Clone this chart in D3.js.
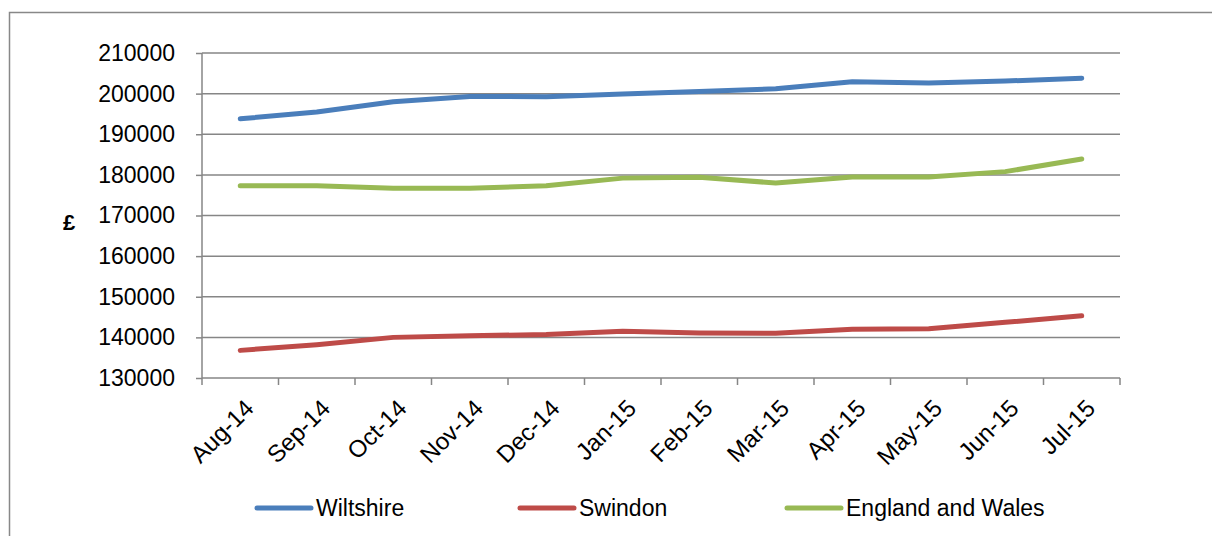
<!DOCTYPE html>
<html>
<head>
<meta charset="utf-8">
<script src="https://cdn.jsdelivr.net/npm/d3@7"></script>
<style>
  body { margin: 0; background: #fff; }
  svg { display: block; font-family: "Liberation Sans", Arial, sans-serif; }
  .ejes path { display: none; }
  .ejes line { stroke: #868686; stroke-width: 1.5; }
  .ejes text { fill: #000; font-size: 23px; }
</style>
</head>
<body>
<div id="graf"></div>
<script>
// Datos
var meses = ['Aug-14', 'Sep-14', 'Oct-14', 'Nov-14', 'Dec-14', 'Jan-15', 'Feb-15', 'Mar-15', 'Apr-15', 'May-15', 'Jun-15', 'Jul-15']
var wiltshire = [193800, 195500, 198000, 199300, 199250, 199900, 200500, 201200, 202900, 202600, 203100, 203800]
var swindon   = [136800, 138200, 140000, 140400, 140700, 141500, 141100, 141000, 142000, 142100, 143700, 145300]
var englandWales = [177300, 177300, 176700, 176700, 177300, 179200, 179400, 178000, 179500, 179500, 180800, 183900]
var yTicks = [130000, 140000, 150000, 160000, 170000, 180000, 190000, 200000, 210000]
var nombres = ['Wiltshire', 'Swindon', 'England and Wales']
var colores = ['#4A7EBB', '#BE4B48', '#98B954']

var ancho_total = 1212
var alto_total = 536
var margins = { top: 53, left: 202, right: 92, bottom: 158 }
var ancho = ancho_total - margins.left - margins.right
var alto = alto_total - margins.top - margins.bottom

svg = d3.select('#graf').append('svg')
        .attr('width', ancho_total)
        .attr('height', alto_total)

// Borde del area del grafico
svg.append('path')
   .attr('d', 'M9.5,536 V12.5 H1212')
   .attr('fill', 'none')
   .attr('stroke', '#888')
   .attr('stroke-width', 1.5)

g = svg.append('g')
       .attr('transform', `translate(${margins.left}, ${margins.top})`)

// Escaladores
x = d3.scaleBand().domain(meses).range([0, ancho])
y = d3.scaleLinear().domain([130000, 210000]).range([alto, 0])
xc = m => x(m) + x.bandwidth() / 2

// Rejilla
g.append('g').selectAll('line')
  .data(yTicks.slice(1))
  .join('line')
  .attr('x1', 0).attr('x2', ancho)
  .attr('y1', d => y(d)).attr('y2', d => y(d))
  .attr('stroke', '#868686')
  .attr('stroke-width', 1.5)

// Eje Y
g.append('g')
  .attr('class', 'ejes')
  .call(d3.axisLeft(y).tickValues(yTicks).tickSize(6).tickPadding(21).tickFormat(d3.format('d')))
g.append('line')
  .attr('x1', 0).attr('x2', 0).attr('y1', 0).attr('y2', alto)
  .attr('stroke', '#868686').attr('stroke-width', 1.5)

// Eje X: marcas en los limites de cada categoria
var bordes = d3.range(meses.length + 1).map(i => i * x.step())
g.append('line')
  .attr('x1', 0).attr('x2', ancho).attr('y1', alto).attr('y2', alto)
  .attr('stroke', '#868686').attr('stroke-width', 1.5)
g.append('g').selectAll('line')
  .data(bordes)
  .join('line')
  .attr('x1', d => d).attr('x2', d => d)
  .attr('y1', alto).attr('y2', alto + 7)
  .attr('stroke', '#868686').attr('stroke-width', 1.5)

g.append('g').selectAll('text')
  .data(meses)
  .join('text')
  .attr('transform', d => `translate(${xc(d) + 3}, ${alto + 20}) rotate(-45)`)
  .attr('text-anchor', 'end')
  .attr('dy', '0.7em')
  .attr('font-size', '24px')
  .text(d => d)

// Titulo eje Y
svg.append('text')
   .attr('x', 69).attr('y', 222)
   .attr('text-anchor', 'middle')
   .attr('dy', '0.35em')
   .attr('font-size', '22px')
   .attr('font-weight', 'bold')
   .text('£')

// Lineas
var series = [wiltshire, swindon, englandWales]
lineaGen = d3.line()
  .x((d, i) => xc(meses[i]))
  .y(d => y(d))

g.append('g').selectAll('path')
  .data(series)
  .join('path')
  .attr('fill', 'none')
  .attr('stroke', (d, i) => colores[i])
  .attr('stroke-width', 5)
  .attr('stroke-linecap', 'round')
  .attr('stroke-linejoin', 'round')
  .attr('d', d => lineaGen(d))

// Leyenda
var leyX = [257, 520, 787]
var ley = svg.append('g').selectAll('g')
  .data(nombres)
  .join('g')
  .attr('transform', (d, i) => `translate(${leyX[i]}, 508)`)
ley.append('line')
  .attr('x1', 0).attr('x2', 54)
  .attr('stroke', (d, i) => colores[i])
  .attr('stroke-width', 5)
  .attr('stroke-linecap', 'round')
ley.append('text')
  .attr('x', 59)
  .attr('dy', '0.35em')
  .attr('font-size', '23px')
  .text(d => d)
</script>
</body>
</html>
